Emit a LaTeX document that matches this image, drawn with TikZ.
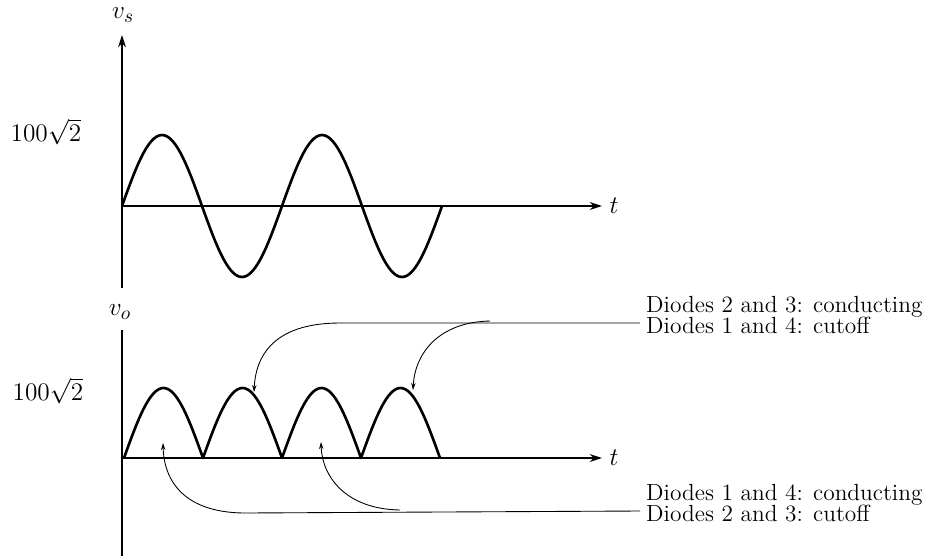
\documentclass[tikz,border=0pt]{standalone}
\usepackage{amsmath}
\usepackage{tikz}
\usetikzlibrary{arrows.meta}

\begin{document}
\begin{tikzpicture}[x=0.02cm,y=-0.02cm,
  every node/.style={font=\fontsize{13.3}{13}\selectfont},
  mathlabel/.style={font=\fontsize{15}{15}\selectfont},
  axis/.style={line width=0.7pt,-{Stealth[length=7pt,width=4.5pt]}},
  wave/.style={line width=1.5pt,line join=round},
  note/.style={line width=0.5pt},
  pointer/.style={line width=0.5pt,-{Stealth[length=4pt,width=2.5pt]}}]
  \useasboundingbox (0,0) rectangle (930,556);
  % input voltage
  \draw[axis] (122,288) -- (122,35);
  \draw[axis] (122,206) -- (602,206);
  \node[mathlabel] (vs) at (123,15) {$v_s$};
  \node[mathlabel] (ts) at (614,206) {$t$};
  \node[mathlabel] (vsmax) at (46,132) {$100\sqrt{2}$};
  \draw[wave] plot[domain=0:4,samples=121] ({122+80*\x},{206-71*sin(180*\x)});
  % output voltage
  \draw[line width=0.7pt] (122,330) -- (122,556);
  \draw[axis] (122,458) -- (602,458);
  \node[mathlabel] (vo) at (120,312) {$v_o$};
  \node[mathlabel] (to) at (614,458) {$t$};
  \node[mathlabel] (vomax) at (48,391) {$100\sqrt{2}$};
  \draw[wave] plot[domain=0:4,samples=161] ({124+79*\x},{458-70*abs(sin(180*\x))});
  % diode states
  \node[anchor=base west] (on23) at (640,312) {Diodes 2 and 3: conducting};
  \node[anchor=base west] (off14) at (640,333) {Diodes 1 and 4: cutoff};
  \node[anchor=base west] (on14) at (640,500) {Diodes 1 and 4: conducting};
  \node[anchor=base west] (off23) at (640,521) {Diodes 2 and 3: cutoff};
  \coordinate (ta) at (340,323);
  \coordinate (tb) at (490,321);
  \coordinate (ba) at (243,513);
  \coordinate (bb) at (400,510);
  \coordinate (arch2) at (254,392);
  \coordinate (arch4) at (413,390);
  \coordinate (arch1) at (163,443);
  \coordinate (arch3) at (321,442);
  \draw[note] (ta) -- (on23.south west);
  \draw[note] (ba) -- (on14.south west);
  \draw[pointer] (ta) .. controls (280,323) and (256,350) .. (arch2);
  \draw[pointer] (tb) .. controls (440,322) and (415,352) .. (arch4);
  \draw[pointer] (ba) .. controls (185,512) and (164,482) .. (arch1);
  \draw[pointer] (bb) .. controls (345,509) and (322,476) .. (arch3);
\end{tikzpicture}
\end{document}
